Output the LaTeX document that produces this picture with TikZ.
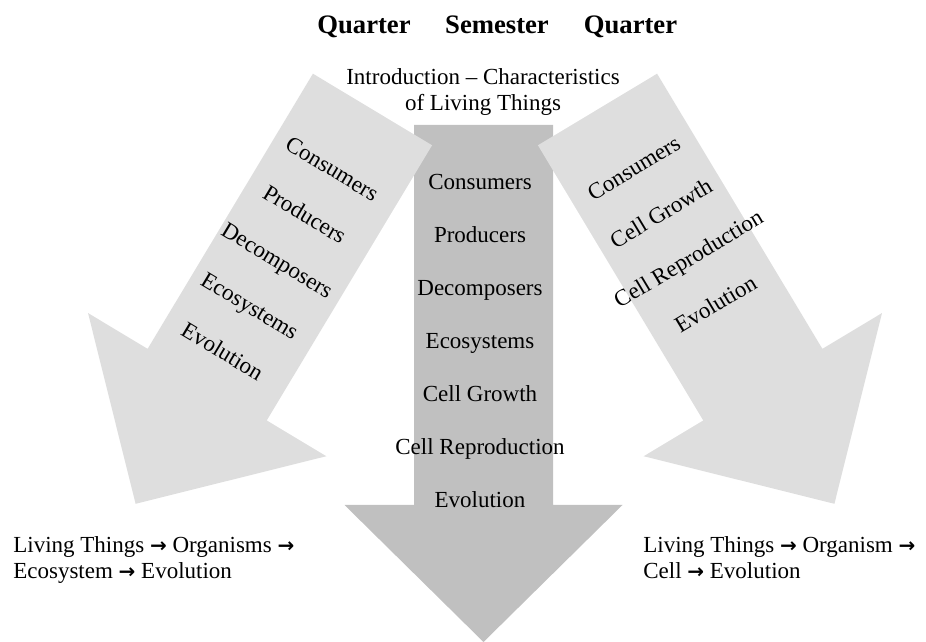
\documentclass[tikz,border=0pt]{standalone}
\usepackage{fontspec}
\setmainfont{Liberation Serif}
\newfontfamily\arrowfont{DejaVu Sans}
\newcommand{\thickarrow}{{\arrowfont\bfseries\fontsize{12}{15.6}\selectfont →}}
\definecolor{midgray}{RGB}{192,192,192}
\definecolor{lightgray2}{RGB}{222,222,222}
\begin{document}
\begin{tikzpicture}[x=0.6pt,y=-0.6pt,
  lbl/.style={font=\fontsize{13.8}{15.6}\selectfont, inner sep=0pt, text=black, text height=9.1pt, text depth=0pt},
  para/.style={font=\fontsize{13.8}{15.6}\selectfont, inner sep=0pt, text=black},
  ttl/.style={font=\fontsize{16}{19}\selectfont\bfseries, inner sep=0pt, text height=10.6pt, text depth=0pt},
  mainarrow/.style={fill=midgray},
  sidearrow/.style={fill=lightgray2}]
\useasboundingbox (0,0) rectangle (926,642);

% centre arrow
\fill[mainarrow] (414,125) -- (553,125) -- (553,505) -- (622.5,505) -- (483.5,642) -- (344.5,505) -- (414,505) -- cycle;

% left arrow
\begin{scope}[shift={(372.5,109.5)},rotate=-31]
  \fill[sidearrow] (-69.5,0) -- (69.5,0) -- (69.5,321) -- (139,321) -- (0,460) -- (-139,321) -- (-69.5,321) -- cycle;
  \node[lbl,transform shape] (l1) at (-4,71.5) {Consumers};
  \node[lbl,transform shape] (l2) at (-4,124.8) {Producers};
  \node[lbl,transform shape] (l3) at (-4,178.1) {Decomposers};
  \node[lbl,transform shape] (l4) at (-4,231.4) {Ecosystems};
  \node[lbl,transform shape] (l5) at (-4,284.7) {Evolution};
\end{scope}

% right arrow
\begin{scope}[shift={(597.5,109.5)},rotate=31]
  \fill[sidearrow] (-69.5,0) -- (69.5,0) -- (69.5,321) -- (139,321) -- (0,460) -- (-139,321) -- (-69.5,321) -- cycle;
  \node[lbl,transform shape] (r1) at (1,68.9) {Consumers};
  \node[lbl,transform shape] (r2) at (1,121.8) {Cell Growth};
  \node[lbl,transform shape] (r3) at (1,174.7) {Cell Reproduction};
  \node[lbl,transform shape] (r4) at (1,227.6) {Evolution};
\end{scope}

% centre texts
\node[lbl] (c1) at (480,182) {Consumers};
\node[lbl] (c2) at (480,235) {Producers};
\node[lbl] (c3) at (480,288) {Decomposers};
\node[lbl] (c4) at (480,341) {Ecosystems};
\node[lbl] (c5) at (480,394) {Cell Growth};
\node[lbl] (c6) at (480,447) {Cell Reproduction};
\node[lbl] (c7) at (480,500) {Evolution};

% titles
\node[ttl] (q1) at (364,25) {Quarter};
\node[ttl] (sm) at (497,25) {Semester};
\node[ttl] (q2) at (630.5,25) {Quarter};

\node[para,align=center] (intro) at (483,92) {Introduction – Characteristics\\of Living Things};

\node[para,align=left,anchor=north west] (bl) at (13,536) {Living Things \thickarrow{} Organisms \thickarrow\\Ecosystem \thickarrow{} Evolution};
\node[para,align=left,anchor=north west] (br) at (643,536) {Living Things \thickarrow{} Organism \thickarrow\\Cell \thickarrow{} Evolution};
\end{tikzpicture}
\end{document}
